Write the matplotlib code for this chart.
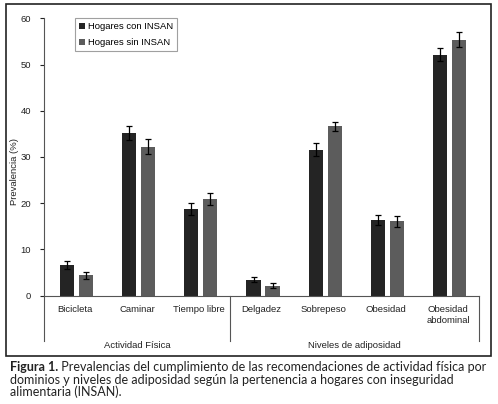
import matplotlib
matplotlib.use("Agg")
import matplotlib.pyplot as plt
from matplotlib.patches import Rectangle
from matplotlib.lines import Line2D
import numpy as np

categories = ["Bicicleta", "Caminar", "Tiempo libre", "Delgadez", "Sobrepeso", "Obesidad", "Obesidad\nabdominal"]
con_insan = [6.6, 35.1, 18.7, 3.5, 31.6, 16.3, 52.1]
con_err = [0.9, 1.5, 1.3, 0.6, 1.4, 1.1, 1.4]
sin_insan = [4.4, 32.2, 21.0, 2.2, 36.6, 16.1, 55.4]
sin_err = [0.7, 1.6, 1.3, 0.6, 1.0, 1.2, 1.6]
groups = ["Actividad Física", "Niveles de adiposidad"]
group_sizes = [3, 4]
series_names = ["Hogares con INSAN", "Hogares sin INSAN"]
yticks = [0, 10, 20, 30, 40, 50, 60]

plt.rcParams['font.family'] = ['Liberation Sans', 'DejaVu Sans']
W, H = 498, 404
fig = plt.figure(figsize=(W/100, H/100), dpi=100)
ax = fig.add_axes([43.7/W, 1-295.7/H, (479.3-43.7)/W, (295.7-18.3)/H])

x = np.arange(len(categories))
bw = 0.23
off = 0.1525
shift = 0.025
dark = '#242424'
gray = '#5c5c5c'
ekw = dict(ecolor='black', elinewidth=0.9, capsize=2.2, capthick=0.9)
ax.bar(x - off + shift, con_insan, bw, color=dark, yerr=con_err, error_kw=ekw, label=series_names[0])
ax.bar(x + off + shift, sin_insan, bw, color=gray, yerr=sin_err, error_kw=ekw, label=series_names[1])

ax.set_xlim(-0.5, len(categories) - 0.5)
ax.set_ylim(0, 60)
ax.set_yticks(yticks)
ax.set_yticklabels([str(v) for v in yticks])
ax.tick_params(axis='y', direction='out', length=3, width=0.8, labelsize=6.8, pad=6, colors='#222222')
ax.set_xticks(x)
ax.set_xticklabels(categories, fontsize=6.8, color='#222222', linespacing=1.25, va='top')
ax.tick_params(axis='x', length=0, pad=7)
for s in ['top', 'right']:
    ax.spines[s].set_visible(False)
for s in ['left', 'bottom']:
    ax.spines[s].set_color('#555555')
    ax.spines[s].set_linewidth(0.8)
ax.set_ylabel("Prevalencia (%)", fontsize=6.8, color='#222222')
ax.yaxis.set_label_coords(-0.056, 0.446)

# group separators and labels
trans = ax.get_xaxis_transform()
bounds = [-0.5]
for g in group_sizes:
    bounds.append(bounds[-1] + g)
for b in bounds:
    ax.add_line(Line2D([b, b], [0, -0.163], transform=trans, color='#555555', lw=0.8, clip_on=False))
for i, g in enumerate(groups):
    cx = (bounds[i] + bounds[i+1]) / 2
    ax.text(cx, -0.178, g, transform=trans, ha='center', va='center', fontsize=6.8, color='#222222')

leg = ax.legend(loc='upper left', bbox_to_anchor=(75/W, 1-18/H), bbox_transform=fig.transFigure,
                fontsize=6.8, frameon=True, fancybox=False, edgecolor='#888888',
                handlelength=0.6, handleheight=0.6, handletextpad=0.3, borderpad=0.45,
                labelspacing=0.7, borderaxespad=0)
leg.get_frame().set_linewidth(0.8)

# outer frame
fig.add_artist(Rectangle((6/W, 1-355.7/H), (490.7-6)/W, (355.7-4)/H, transform=fig.transFigure,
                         fill=False, edgecolor='#222222', lw=1.2))

# caption
cap_font = ['Lato', 'DejaVu Sans']
cs = 9.0
t1 = fig.text(10/W, 1-366.7/H, "Figura 1.", fontsize=cs, fontweight='bold', family=cap_font,
              va='center', ha='left', color='#222222')
ax.annotate(" Prevalencias del cumplimiento de las recomendaciones de actividad física por",
            xy=(1, 0.5), xycoords=t1, va='center', ha='left', fontsize=cs, family=cap_font,
            color='#222222', annotation_clip=False)
fig.text(10/W, 1-379.5/H, "dominios y niveles de adiposidad según la pertenencia a hogares con inseguridad",
         fontsize=cs, family=cap_font, va='center', ha='left', color='#222222')
fig.text(10/W, 1-392/H, "alimentaria (INSAN).",
         fontsize=cs, family=cap_font, va='center', ha='left', color='#222222')

fig.savefig("out.png", dpi=100)
